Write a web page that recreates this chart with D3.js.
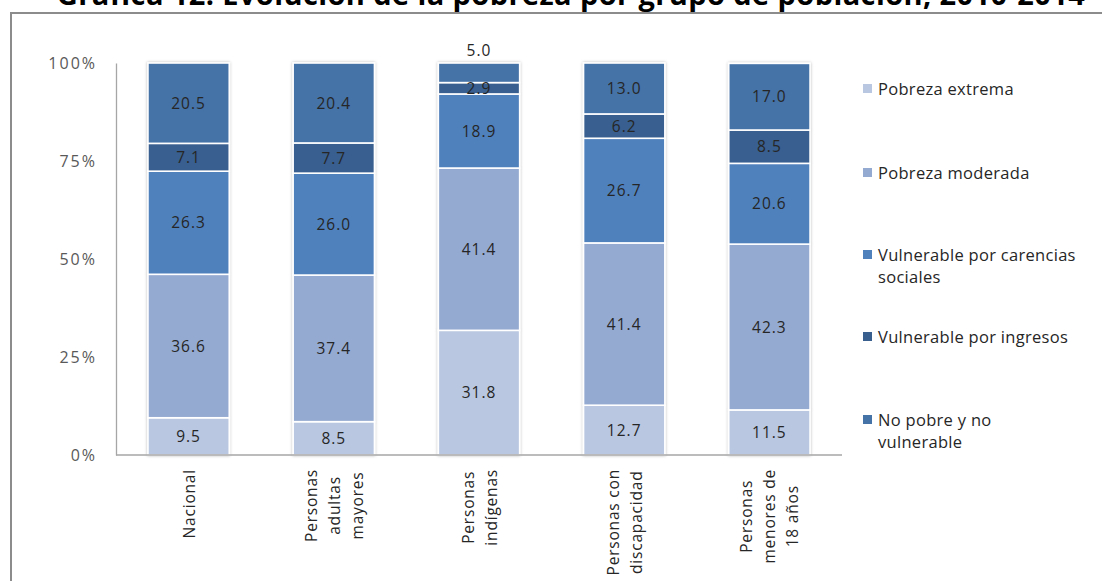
<!DOCTYPE html>
<html>
<head>
<meta charset="utf-8">
<script src="https://cdn.jsdelivr.net/npm/d3@7"></script>
<style>
  body { margin: 0; background: #fff; }
  svg { display: block; font-family: "Open Sans", "Noto Sans", sans-serif; }
</style>
</head>
<body>
<div id="chart"></div>
<script>
var svgWidth = 1102;
var svgHeight = 581;

// categories (x axis), one label line per array entry
var groups = ["Nacional", "Adultas", "Indigenas", "Discapacidad", "Menores"];
var groupLabels = [
  ["Nacional"],
  ["Personas", "adultas", "mayores"],
  ["Personas", "indígenas"],
  ["Personas con", "discapacidad"],
  ["Personas", "menores de", "18  años"]
];

// series, bottom to top
var seriesNames = ["Pobreza extrema", "Pobreza moderada", "Vulnerable por carencias sociales",
                   "Vulnerable por ingresos", "No pobre y no vulnerable"];
var legendLines = [["Pobreza extrema"], ["Pobreza moderada"], ["Vulnerable por carencias", "sociales"],
                   ["Vulnerable por ingresos"], ["No pobre y no", "vulnerable"]];
var seriesColors = ["#b9c7e1", "#95aad1", "#4f81bd", "#395f8f", "#4572a7"];

var pobrezaExtrema   = [9.5, 8.5, 31.8, 12.7, 11.5];
var pobrezaModerada  = [36.6, 37.4, 41.4, 41.4, 42.3];
var vulnCarencias    = [26.3, 26.0, 18.9, 26.7, 20.6];
var vulnIngresos     = [7.1, 7.7, 2.9, 6.2, 8.5];
var noPobre          = [20.5, 20.4, 5.0, 13.0, 17.0];

var yTicks = [0, 25, 50, 75, 100];

var seriesValues = [pobrezaExtrema, pobrezaModerada, vulnCarencias, vulnIngresos, noPobre];

var margin = { top: 63, left: 116 };
var chartWidth = 726;
var chartHeight = 392;

var svg = d3.select("#chart")
  .append("svg")
  .attr("width", svgWidth)
  .attr("height", svgHeight);

// soft shadow for the bars
var defs = svg.append("defs");
var filt = defs.append("filter").attr("id", "shadow")
  .attr("x", "-20%").attr("y", "-5%").attr("width", "140%").attr("height", "110%");
filt.append("feDropShadow").attr("dx", 0).attr("dy", 0).attr("stdDeviation", 1.6)
  .attr("flood-color", "#000").attr("flood-opacity", 0.28);

// outer frame
svg.append("rect")
  .attr("x", 11).attr("y", 13)
  .attr("width", 1120).attr("height", 600)
  .attr("fill", "none").attr("stroke", "#8c8c8c").attr("stroke-width", 2);

// title (cut off at the top like the source)
svg.append("text")
  .attr("x", 571).attr("y", 5)
  .attr("text-anchor", "middle")
  .attr("font-weight", "bold")
  .attr("font-size", 29)
  .attr("letter-spacing", 0.4)
  .attr("fill", "#000")
  .text("Gráfica 12. Evolución de la pobreza por grupo de población, 2010-2014");

var chartGroup = svg.append("g")
  .attr("transform", `translate(${margin.left}, ${margin.top})`);

// table rows for d3.stack
var table = groups.map((g, i) => {
  var row = { group: g };
  seriesNames.forEach((s, j) => { row[s] = seriesValues[j][i]; });
  return row;
});

var stacked = d3.stack().keys(seriesNames)(table);

var xBandScale = d3.scaleBand()
  .domain(groups)
  .range([0, chartWidth])
  .paddingInner(0.44)
  .paddingOuter(0.22);

var yLinearScale = d3.scaleLinear()
  .domain([0, 100])
  .range([chartHeight, 0]);

// y axis labels
var leftAxis = d3.axisLeft(yLinearScale)
  .tickValues(yTicks)
  .tickFormat(d => d + "%")
  .tickSize(0)
  .tickPadding(19);

var yAxisG = chartGroup.append("g").call(leftAxis);
yAxisG.select(".domain").attr("stroke", "#a6a6a6").attr("stroke-width", 1.3);
yAxisG.selectAll("text")
  .attr("font-size", 16)
  .attr("fill", "#595959")
  .attr("letter-spacing", 2)
  .attr("font-family", "Open Sans, sans-serif");

// bars
var barsG = chartGroup.append("g").attr("filter", "url(#shadow)");
barsG.selectAll(".serie")
  .data(stacked)
  .enter()
  .append("g")
  .attr("fill", (d, i) => seriesColors[i])
  .selectAll("rect")
  .data(d => d)
  .enter()
  .append("rect")
  .attr("x", d => xBandScale(d.data.group))
  .attr("y", d => yLinearScale(d[1]))
  .attr("width", xBandScale.bandwidth())
  .attr("height", d => yLinearScale(d[0]) - yLinearScale(d[1]))
  .attr("stroke", "#fff")
  .attr("stroke-width", 1.6);

// x axis line
chartGroup.append("line")
  .attr("x1", 0).attr("x2", chartWidth)
  .attr("y1", chartHeight).attr("y2", chartHeight)
  .attr("stroke", "#a6a6a6").attr("stroke-width", 1.5);

// data labels
stacked.forEach((serie, si) => {
  chartGroup.selectAll(".lbl" + si)
    .data(serie)
    .enter()
    .append("text")
    .attr("x", d => xBandScale(d.data.group) + xBandScale.bandwidth() / 2)
    .attr("y", d => {
      var v = d[1] - d[0];
      // small top segment: label sits above the bar
      if (si === stacked.length - 1 && v < 6) return yLinearScale(d[1]) - 13;
      return (yLinearScale(d[0]) + yLinearScale(d[1])) / 2;
    })
    .attr("dy", "0.36em")
    .attr("text-anchor", "middle")
    .attr("font-size", 15.5)
    .attr("letter-spacing", 1)
    .attr("fill", "#262626")
    .text(d => d3.format(".1f")(d[1] - d[0]));
});

// x labels, rotated, lines centred on each other, block top-aligned under axis
var lineStep = 23;
groupLabels.forEach((lines, i) => {
  var cx = xBandScale(groups[i]) + xBandScale.bandwidth() / 2;
  var g = chartGroup.append("g");
  var texts = lines.map((ln, k) => {
    return g.append("text")
      .attr("font-size", 15.5)
      .attr("fill", "#262626")
      .attr("letter-spacing", 0.8)
      .attr("text-anchor", "middle")
      .text(ln);
  });
  var maxLen = d3.max(texts, t => t.node().getComputedTextLength());
  var midY = chartHeight + 14 + maxLen / 2;
  texts.forEach((t, k) => {
    var lx = cx + (k - (lines.length - 1) / 2) * lineStep + 6;
    t.attr("transform", `translate(${lx}, ${midY}) rotate(-90)`);
  });
});

// legend
var legendY = [89, 173, 255, 337, 420];
var legend = svg.append("g");
legendLines.forEach((lines, i) => {
  legend.append("rect")
    .attr("x", 863).attr("y", legendY[i] - 5)
    .attr("width", 9).attr("height", 9)
    .attr("fill", seriesColors[i]);
  lines.forEach((ln, k) => {
    legend.append("text")
      .attr("x", 878)
      .attr("y", legendY[i] + k * 22)
      .attr("dy", "0.36em")
      .attr("font-size", 16.5)
      .attr("letter-spacing", 0.3)
      .attr("fill", "#262626")
      .text(ln);
  });
});
</script>
</body>
</html>
